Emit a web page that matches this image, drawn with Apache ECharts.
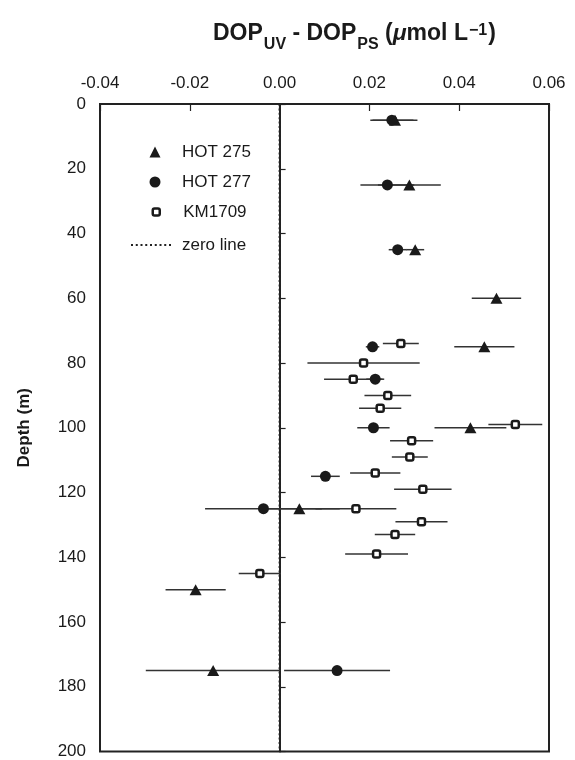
<!DOCTYPE html>
<html>
<head>
<meta charset="utf-8">
<script src="https://cdn.jsdelivr.net/npm/echarts@6/dist/echarts.min.js"></script>
<style>
  html, body { margin: 0; padding: 0; background: #fff; }
  #chart { width: 575px; height: 760px; }
</style>
</head>
<body>
<div id="chart"></div>
<script>
// Depth profiles of DOP_UV - DOP_PS with horizontal error bars
const hot275Depth = [5, 25, 45, 60, 75, 100, 125, 150, 175];
const hot275Value = [0.0257, 0.0289, 0.0302, 0.0483, 0.0456, 0.0425, 0.0044, -0.0187, -0.0148];
const hot275Error = [0.0050, 0.0070, 0.0020, 0.0055, 0.0067, 0.0080, 0.0090, 0.0067, 0.0150];

const hot277Depth = [5, 25, 45, 75, 85, 100, 115, 125, 175];
const hot277Value = [0.0250, 0.0240, 0.0263, 0.0207, 0.0213, 0.0209, 0.0102, -0.0036, 0.0128];
const hot277Error = [0.0048, 0.0060, 0.0020, 0.0015, 0.0020, 0.0036, 0.0032, 0.0130, 0.0118];

const km1709Depth = [74, 80, 85, 90, 94, 99, 104, 109, 114, 119, 125, 129, 133, 139, 145];
const km1709Value = [0.0270, 0.0187, 0.0164, 0.0241, 0.0224, 0.0525, 0.0294, 0.0290, 0.0213, 0.0319, 0.0170, 0.0316, 0.0257, 0.0216, -0.0044];
const km1709Error = [0.0040, 0.0125, 0.0065, 0.0052, 0.0047, 0.0060, 0.0048, 0.0040, 0.0056, 0.0064, 0.0090, 0.0058, 0.0045, 0.0070, 0.0047];

const xTicks = { min: -0.04, max: 0.06, step: 0.02 };
const yTicks = { min: 0, max: 200, step: 20 };

const FONT = 'Liberation Sans, Arial, Helvetica, sans-serif';
const INK = '#1a1a1a';

function points(depth, value) {
  return depth.map((d, i) => [value[i], d]);
}
function bars(depth, value, err) {
  return depth.map((d, i) => [value[i] - err[i], value[i] + err[i], d]);
}

// dotted legend icon: a row of small square dots
function dottedIcon(count, pitch, dot) {
  let p = 'path://';
  for (let k = 0; k < count; k++) {
    const x = k * pitch;
    p += 'M' + x + ',0L' + (x + dot) + ',0L' + (x + dot) + ',' + dot + 'L' + x + ',' + dot + 'Z';
  }
  return p;
}

function errorBarSeries(data) {
  return {
    type: 'custom',
    data: data,
    z: 1,
    silent: true,
    encode: { x: [0, 1], y: 2 },
    renderItem: function (params, api) {
      const a = api.coord([api.value(0), api.value(2)]);
      const b = api.coord([api.value(1), api.value(2)]);
      return {
        type: 'line',
        shape: { x1: a[0], y1: a[1], x2: b[0], y2: b[1] },
        style: { stroke: '#333', lineWidth: 1.5 }
      };
    }
  };
}

const legendText = { fontFamily: FONT, fontSize: 17, color: INK, lineHeight: 18 };

const chart = echarts.init(document.getElementById('chart'), null, { renderer: 'canvas' });

chart.setOption({
  animation: false,
  backgroundColor: '#fff',
  textStyle: { fontFamily: FONT },
  title: {
    text: '{b|DOP}{s|UV}{b| - DOP}{s|PS}{b| (}{i|μ}{b|mol L}{p|−1}{b|)}',
    left: 213,
    top: 22,
    padding: 0,
    textStyle: {
      rich: {
        b: { fontFamily: FONT, fontWeight: 'bold', fontSize: 23, color: INK, lineHeight: 32, verticalAlign: 'top' },
        i: { fontFamily: FONT, fontWeight: 'bold', fontStyle: 'italic', fontSize: 23, color: INK, lineHeight: 32, verticalAlign: 'top' },
        s: { fontFamily: FONT, fontWeight: 'bold', fontSize: 16, color: INK, lineHeight: 18, padding: [15, 0, 0, 1], verticalAlign: 'top' },
        p: { fontFamily: FONT, fontWeight: 'bold', fontSize: 16, color: INK, lineHeight: 18, padding: [1, 1, 14, 1], verticalAlign: 'top' }
      }
    }
  },
  legend: [
    {
      data: ['HOT 275', 'HOT 277'],
      orient: 'vertical',
      left: 149.5,
      top: 143,
      padding: 0,
      itemWidth: 11,
      itemHeight: 11,
      itemGap: 12,
      selectedMode: false,
      textStyle: Object.assign({ padding: [0, 0, 0, 16.5] }, legendText)
    },
    {
      data: [{
        name: 'KM1709',
        itemStyle: { color: '#fff', borderColor: INK, borderWidth: 2.5 }
      }],
      orient: 'vertical',
      left: 151.5,
      top: 203,
      padding: 0,
      itemWidth: 7,
      itemHeight: 7,
      selectedMode: false,
      textStyle: Object.assign({ padding: [0, 0, 0, 18.5] }, legendText)
    },
    {
      data: [{ name: 'zero line', icon: dottedIcon(9, 4.75, 2) }],
      orient: 'vertical',
      left: 131,
      top: 236,
      padding: 0,
      itemWidth: 40,
      itemHeight: 12,
      selectedMode: false,
      textStyle: Object.assign({ padding: [0, 0, 0, 6] }, legendText)
    }
  ],
  grid: {
    left: 100, right: 26, top: 104, bottom: 6,
    show: true,
    borderColor: '#222',
    borderWidth: 2,
    backgroundColor: 'transparent'
  },
  xAxis: {
    type: 'value',
    position: 'top',
    min: xTicks.min,
    max: xTicks.max,
    interval: xTicks.step,
    axisLine: { show: true, lineStyle: { color: '#222', width: 2 } },
    axisTick: { show: true, inside: true, length: 7, lineStyle: { color: '#222', width: 1.2 } },
    splitLine: { show: false },
    axisLabel: {
      margin: 12,
      fontFamily: FONT, fontSize: 17, color: INK,
      formatter: v => (Math.abs(v) < 1e-9 ? 0 : v).toFixed(2)
    }
  },
  yAxis: {
    type: 'value',
    inverse: true,
    min: yTicks.min,
    max: yTicks.max,
    interval: yTicks.step,
    name: 'Depth (m)',
    nameLocation: 'middle',
    nameGap: 67,
    nameRotate: 90,
    nameTextStyle: { fontFamily: FONT, fontSize: 17, fontWeight: 'bold', color: INK },
    axisLine: { show: true, lineStyle: { color: '#222', width: 2 } },
    axisTick: { show: true, inside: true, length: 6, lineStyle: { color: '#222', width: 1.2 } },
    splitLine: { show: false },
    axisLabel: { margin: 14, fontFamily: FONT, fontSize: 17, color: INK }
  },
  series: [
    {
      name: 'zero line',
      type: 'line',
      data: [[0, yTicks.min], [0, yTicks.max]],
      symbol: 'none',
      color: '#222',
      itemStyle: { color: '#222' },
      z: 0,
      silent: true,
      lineStyle: { color: '#222', width: 2, type: [2, 2.4], cap: 'butt' }
    },
    errorBarSeries(bars(hot275Depth, hot275Value, hot275Error)),
    errorBarSeries(bars(hot277Depth, hot277Value, hot277Error)),
    errorBarSeries(bars(km1709Depth, km1709Value, km1709Error)),
    {
      name: 'HOT 275',
      type: 'scatter',
      data: points(hot275Depth, hot275Value),
      symbol: 'triangle',
      symbolSize: [12, 11],
      z: 3,
      itemStyle: { color: INK, opacity: 1 }
    },
    {
      name: 'HOT 277',
      type: 'scatter',
      data: points(hot277Depth, hot277Value),
      symbol: 'circle',
      symbolSize: 11,
      z: 4,
      itemStyle: { color: INK, opacity: 1 }
    },
    {
      name: 'KM1709',
      type: 'scatter',
      data: points(km1709Depth, km1709Value),
      symbol: 'roundRect',
      symbolSize: 7,
      z: 5,
      itemStyle: { color: '#fff', borderColor: INK, borderWidth: 2.5, opacity: 1 }
    }
  ]
});
</script>
</body>
</html>
